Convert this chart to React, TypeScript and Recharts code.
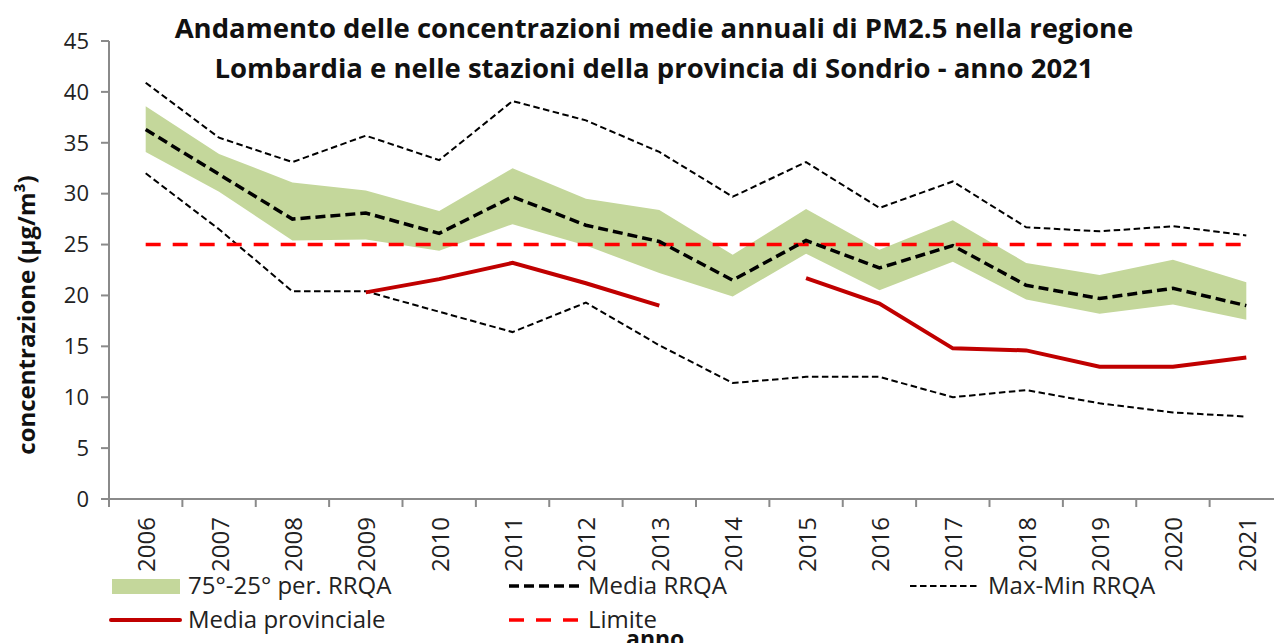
import React from 'react';
import { ComposedChart, Area, Line, XAxis, YAxis } from 'recharts';

const years = ['2006', '2007', '2008', '2009', '2010', '2011', '2012', '2013', '2014', '2015', '2016', '2017', '2018', '2019', '2020', '2021'];
const mediaRRQA = [36.3, 31.9, 27.5, 28.1, 26.1, 29.7, 26.9, 25.3, 21.5, 25.4, 22.7, 24.9, 21.0, 19.7, 20.7, 19.0];
const perc75 = [38.6, 33.9, 31.1, 30.3, 28.3, 32.5, 29.5, 28.4, 24.0, 28.5, 24.5, 27.4, 23.2, 22.0, 23.5, 21.3];
const perc25 = [34.1, 30.2, 25.4, 25.5, 24.4, 27.0, 24.9, 22.2, 19.9, 24.1, 20.5, 23.3, 19.6, 18.2, 19.1, 17.6];
const maxRRQA = [40.9, 35.5, 33.1, 35.7, 33.3, 39.1, 37.2, 34.1, 29.7, 33.1, 28.6, 31.2, 26.7, 26.3, 26.8, 25.9];
const minRRQA = [32.0, 26.5, 20.4, 20.4, 18.4, 16.4, 19.3, 15.1, 11.4, 12.0, 12.0, 10.0, 10.7, 9.4, 8.5, 8.1];
const mediaProvinciale = [null, null, null, 20.3, 21.6, 23.2, 21.2, 19.0, null, 21.7, 19.2, 14.8, 14.6, 13.0, 13.0, 13.9];
const limite = [25, 25, 25, 25, 25, 25, 25, 25, 25, 25, 25, 25, 25, 25, 25, 25];
const yTicks = [0, 5, 10, 15, 20, 25, 30, 35, 40, 45];
const xBoundaries = [0, 1, 2, 3, 4, 5, 6, 7, 8, 9, 10, 11, 12, 13, 14, 15, 16];

const data = years.map((y, i) => ({
  x: i + 0.5,
  year: y,
  band: [perc25[i], perc75[i]],
  media: mediaRRQA[i],
  max: maxRRQA[i],
  min: minRRQA[i],
  prov: mediaProvinciale[i],
  limite: limite[i],
}));

const FONT = '"Open Sans", "Liberation Sans", sans-serif';
const CHART_W = 1290;
const M_LEFT = 48;
const M_RIGHT = 7;
const Y_W = 61;
const PLOT_W = CHART_W - M_LEFT - M_RIGHT - Y_W;
const BAND = PLOT_W / years.length;
const AXIS = '#8a8a8a';

const XTick = (props: any) => {
  const { x, y, payload } = props;
  const idx = payload.value;
  if (idx >= years.length) return null;
  const cx = x + BAND / 2;
  const ty = y + 8;
  return (
    <text
      x={cx}
      y={ty}
      transform={`rotate(-90 ${cx} ${ty})`}
      textAnchor="end"
      dominantBaseline="central"
      fontSize={24}
      fontFamily={FONT}
      fill="#222"
    >
      {years[idx]}
    </text>
  );
};

const YLabel = () => (
  <text
    x={25}
    y={315}
    transform="rotate(-90 25 315)"
    textAnchor="middle"
    dominantBaseline="central"
    fontSize={24}
    fontWeight="bold"
    fontFamily={FONT}
    fill="#111"
  >
    concentrazione (µg/m³)
  </text>
);

const legendText: React.CSSProperties = {
  position: 'absolute',
  fontSize: 24,
  fontFamily: FONT,
  color: '#222',
  lineHeight: '24px',
  whiteSpace: 'nowrap',
};

const Swatch = ({ left, top, children }: any) => (
  <svg style={{ position: 'absolute', left, top }} width={74} height={20}>
    {children}
  </svg>
);

export default function App() {
  return (
    <div
      style={{
        position: 'fixed',
        left: 0,
        top: 0,
        width: 1274,
        height: 643,
        overflow: 'hidden',
        background: '#fff',
        fontFamily: FONT,
      }}
    >
      <ComposedChart
        width={CHART_W}
        height={643}
        data={data}
        margin={{ top: 41, right: M_RIGHT, left: M_LEFT, bottom: 0 }}
      >
        <XAxis
          type="number"
          dataKey="x"
          domain={[0, 16]}
          ticks={xBoundaries}
          interval={0}
          height={144}
          tick={<XTick />}
          tickSize={8}
          axisLine={{ stroke: AXIS, strokeWidth: 2 }}
          tickLine={{ stroke: AXIS, strokeWidth: 2 }}
          allowDecimals={false}
        />
        <YAxis
          domain={[0, 45]}
          ticks={yTicks}
          interval={0}
          width={Y_W}
          tickSize={8}
          tickMargin={12}
          axisLine={{ stroke: AXIS, strokeWidth: 2 }}
          tickLine={{ stroke: AXIS, strokeWidth: 2 }}
          tick={{ fontSize: 22, fill: '#222', fontFamily: FONT }}
          label={<YLabel />}
        />
        <Area
          dataKey="band"
          stroke="none"
          fill="#C4D79B"
          fillOpacity={1}
          isAnimationActive={false}
          activeDot={false}
          dot={false}
        />
        <Line dataKey="max" stroke="#000" strokeWidth={2} strokeDasharray="6.5 3.5" dot={false} isAnimationActive={false} />
        <Line dataKey="min" stroke="#000" strokeWidth={2} strokeDasharray="6.5 3.5" dot={false} isAnimationActive={false} />
        <Line dataKey="limite" stroke="#FF0000" strokeWidth={3.5} strokeDasharray="15 12" dot={false} isAnimationActive={false} />
        <Line dataKey="media" stroke="#000" strokeWidth={3.5} strokeDasharray="10 5" dot={false} isAnimationActive={false} />
        <Line dataKey="prov" stroke="#C00000" strokeWidth={4} dot={false} isAnimationActive={false} />
      </ComposedChart>

      <div
        style={{
          position: 'absolute',
          left: 154,
          top: 8,
          width: 1000,
          textAlign: 'center',
          fontSize: 27.5,
          fontWeight: 'bold',
          lineHeight: '40px',
          color: '#111',
          fontFamily: FONT,
          whiteSpace: 'nowrap',
        }}
      >
        Andamento delle concentrazioni medie annuali di PM2.5 nella regione
        <br />
        Lombardia e nelle stazioni della provincia di Sondrio - anno 2021
      </div>

      <Swatch left={110} top={576}>
        <rect x={2} y={3} width={68} height={15} fill="#C4D79B" />
      </Swatch>
      <div style={{ ...legendText, left: 188, top: 573 }}>75°-25° per. RRQA</div>

      <Swatch left={508} top={576}>
        <line x1={1} y1={10} x2={72} y2={10} stroke="#000" strokeWidth={3.5} strokeDasharray="10 5" />
      </Swatch>
      <div style={{ ...legendText, left: 588, top: 573 }}>Media RRQA</div>

      <Swatch left={908} top={576}>
        <line x1={2} y1={10} x2={72} y2={10} stroke="#000" strokeWidth={2} strokeDasharray="6.5 3.5" />
      </Swatch>
      <div style={{ ...legendText, left: 988, top: 573 }}>Max-Min RRQA</div>

      <Swatch left={108} top={610}>
        <line x1={3} y1={10} x2={72} y2={10} stroke="#C00000" strokeWidth={4} strokeLinecap="round" />
      </Swatch>
      <div style={{ ...legendText, left: 188, top: 607 }}>Media provinciale</div>

      <Swatch left={508} top={610}>
        <line x1={1} y1={10} x2={72} y2={10} stroke="#FF0000" strokeWidth={3.5} strokeDasharray="15 12" />
      </Swatch>
      <div style={{ ...legendText, left: 588, top: 607 }}>Limite</div>

      <div
        style={{
          position: 'absolute',
          left: 626,
          top: 626,
          fontSize: 23,
          fontWeight: 'bold',
          lineHeight: '24px',
          color: '#111',
          fontFamily: FONT,
        }}
      >
        anno
      </div>
    </div>
  );
}
